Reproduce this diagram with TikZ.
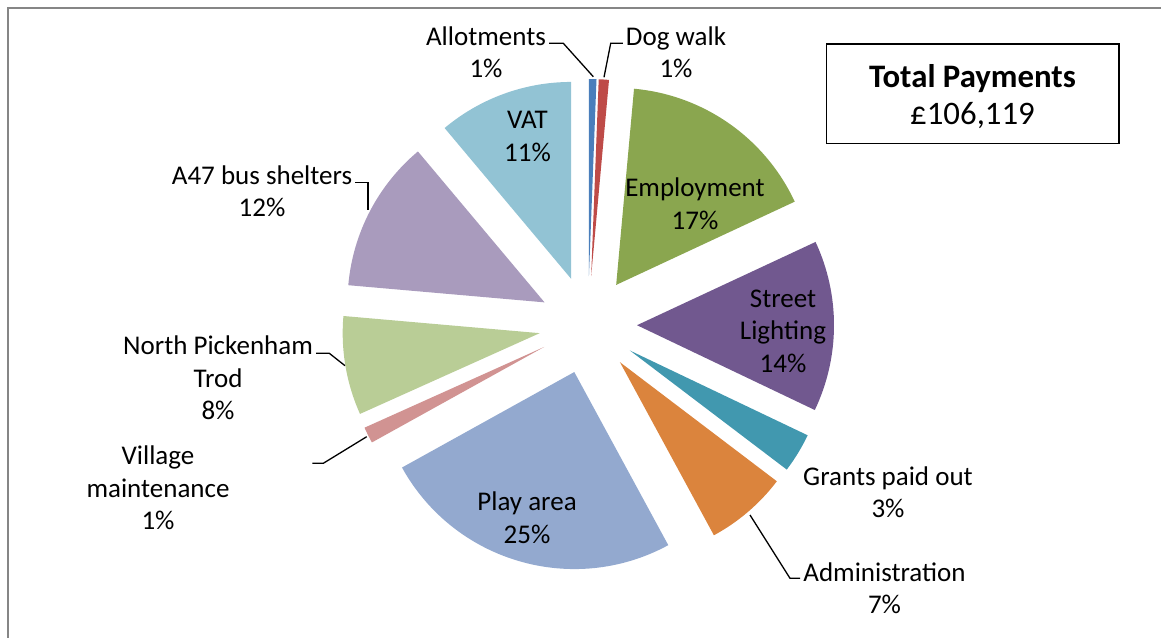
\documentclass[tikz,border=0pt]{standalone}
\usepackage{fontspec}
\setmainfont{Carlito}
\usepackage{tikz}
\usetikzlibrary{calc,positioning}
\definecolor{allotblue}{RGB}{74,126,187}
\definecolor{dogred}{RGB}{190,75,72}
\definecolor{employgreen}{RGB}{138,166,79}
\definecolor{lightpurple}{RGB}{113,88,143}
\definecolor{grantteal}{RGB}{65,152,175}
\definecolor{adminorange}{RGB}{219,132,61}
\definecolor{playblue}{RGB}{147,169,207}
\definecolor{villpink}{RGB}{209,147,146}
\definecolor{trodgreen}{RGB}{185,205,150}
\definecolor{shelterlilac}{RGB}{169,155,189}
\definecolor{vatblue}{RGB}{146,195,212}
\definecolor{framegray}{RGB}{134,134,134}

\begin{document}
\begin{tikzpicture}
[x=1pt,y=1pt,
	lbl/.style={align=center,inner sep=3pt,font=\fontsize{27}{32.5}\selectfont},
	leader/.style={draw=black,line width=1.3pt}]
\useasboundingbox (0,0) rectangle (1161,637);
\draw[framegray,line width=2pt] (8,-5) -- (8,629) -- (1170,629);

\coordinate (C) at (588,312);
\foreach \s/\e/\col in {90/87.8/allotblue,87.8/84.8/dogred,84.8/25/employgreen,
	25/-25.5/lightpurple,-25.5/-37.2/grantteal,-37.2/-61.5/adminorange,
	-61.5/-151/playblue,-151/-155.8/villpink,-155.8/-185/trodgreen,
	-185/-230/shelterlilac,-230/-270/vatblue}
{
	\pgfmathsetmacro{\m}{(\s+\e)/2}
	\fill[\col] ($(C)+(\m:49)$) -- ++(\s:197) arc[start angle=\s,end angle=\e,radius=197] -- cycle;
}

\node[lbl] (allot) at (486,585) {Allotments\\1\%};
\node[lbl] (dog) at (676,585) {Dog walk\\1\%};
\node[lbl] (vat) at (527.5,500.5) {VAT\\11\%};
\node[lbl] (employ) at (695,433.5) {Employment\\17\%};
\node[lbl] (light) at (783,306) {Street\\Lighting\\14\%};
\node[lbl] (grants) at (888,145) {Grants paid out\\3\%};
\node[lbl] (admin) at (884.5,49) {Administration\\7\%};
\node[lbl] (play) at (527,119.5) {Play area\\25\%};
\node[lbl] (village) at (158,149) {Village\\maintenance\\1\%};
\node[lbl] (trod) at (218,259) {North Pickenham\\Trod\\8\%};
\node[lbl] (shelter) at (262,445.7) {A47 bus shelters\\12\%};

\coordinate (allot knee) at (563.3,593.7);
\coordinate (allot tip) at (593.3,560.3);
\coordinate (dog knee) at (610.7,593.7);
\coordinate (dog tip) at (604,559.7);
\coordinate (shelter knee) at (368,454.3);
\coordinate (shelter tip) at (368,427);
\coordinate (trod knee) at (329.3,283.7);
\coordinate (trod tip) at (345,271.3);
\coordinate (village start) at (312.3,173.7);
\coordinate (village knee) at (323.3,173.7);
\coordinate (village tip) at (366.7,200.3);
\coordinate (admin knee) at (790,58.7);
\coordinate (admin tip) at (750,122);
\path[leader] (allot.east |- allot knee) -- (allot knee) -- (allot tip);
\path[leader] (dog.west |- dog knee) -- (dog knee) -- (dog tip);
\path[leader] (shelter.east |- shelter knee) -- (shelter knee) -- (shelter tip);
\path[leader] (trod.east |- trod knee) -- (trod knee) -- (trod tip);
\path[leader] (village start) -- (village knee) -- (village tip);
\path[leader] (admin.west |- admin knee) -- (admin knee) -- (admin tip);

\node[draw,line width=1.5pt,minimum width=292.3pt,minimum height=99.3pt] (totalbox) at (972.8,543.3) {};
\node[align=center,font=\fontsize{32.8}{37.5}\selectfont] (total) at (972.5,540.5) {\textbf{Total Payments}\\£106,119};
\end{tikzpicture}
\end{document}
